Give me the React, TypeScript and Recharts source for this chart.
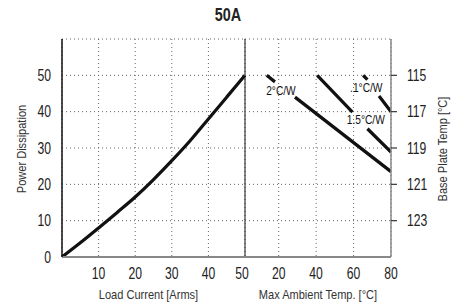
import {
  LineChart,
  Line,
  XAxis,
  YAxis,
  CartesianGrid,
  ReferenceLine,
  ReferenceDot,
  Label,
} from 'recharts'

// no condensed face installed, so regular Liberation Sans gets squeezed horizontally
const FONT = '"Liberation Sans", Arial, sans-serif'

// left panel: power dissipation vs load current
const loadCurrent = [0, 5, 10, 15, 20, 25, 30, 35, 40, 45, 50]
const powerDissipation = [0, 3.9, 8.0, 12.2, 16.5, 21.3, 26.5, 32.0, 38.0, 44.0, 50]
const currentTicks = [10, 20, 30, 40, 50]
const powerTicks = [0, 10, 20, 30, 40, 50, 60]

// right panel: derating lines (ambient temp vs power), null = gap for the label
const twoCwTemp = [13.6, 18, 23, 28.7, 80]
const twoCwPower = [50, 48.2, null, 44, 23.5]
const oneHalfCwTemp = [40.6, 59.4, 63, 67.4, 80]
const oneHalfCwPower = [50, 39.9, null, 35.3, 28.9]
const pointOneCwTemp = [65.1, 67.4, 70, 73.6, 80]
const pointOneCwPower = [50, 48.8, null, 44.3, 40]
const ambientTicks = [20, 40, 60, 80]
const basePlatePower = [10, 20, 30, 40, 50, 60]
const basePlateLabels = ['123', '121', '119', '117', '115', '']

const curveLabels = [
  { text: '2°C/W', temp: 21.2, power: 45.9 },
  { text: '.1°C/W', temp: 66.8, power: 46.6 },
  { text: '1.5°C/W', temp: 66.5, power: 37.8 },
]

const zip = (xs: number[], ys: (number | null)[]) => xs.map((x, i) => ({ x, y: ys[i] }))

const curveData = zip(loadCurrent, powerDissipation)
const series = [zip(twoCwTemp, twoCwPower), zip(oneHalfCwTemp, oneHalfCwPower), zip(pointOneCwTemp, pointOneCwPower)]

const gridStroke = '#666'
const TICK_SIZE = 16
const TICK_SX = 0.76

function NarrowText({ x, y, anchor = 'middle', size, weight = 'normal', fill = '#222', rotate = 0, sx = 0.85, baseline, children }: any) {
  return (
    <text
      transform={`translate(${x},${y}) rotate(${rotate}) scale(${sx},1)`}
      textAnchor={anchor}
      dominantBaseline={baseline}
      fontSize={size}
      fontWeight={weight}
      fill={fill}
      fontFamily={FONT}
    >
      {children}
    </text>
  )
}

function BottomTick({ x, y, payload }: any) {
  return (
    <NarrowText x={x} y={y + TICK_SIZE * 0.716} size={TICK_SIZE} sx={TICK_SX}>
      {payload.value}
    </NarrowText>
  )
}

function LeftTick({ x, y, payload }: any) {
  if (payload.value === 60) return <g />
  return (
    <NarrowText x={x} y={y + TICK_SIZE * 0.358} anchor="end" size={TICK_SIZE} sx={TICK_SX}>
      {payload.value}
    </NarrowText>
  )
}

function RightTick({ x, y, payload }: any) {
  const label = basePlateLabels[basePlatePower.indexOf(payload.value)]
  if (!label) return <g />
  return (
    <g>
      <line x1={x - 15} x2={x - 9} y1={y} y2={y} stroke="#333" strokeWidth={1.2} />
      <NarrowText x={x + 1} y={y + TICK_SIZE * 0.358} anchor="start" size={TICK_SIZE} sx={TICK_SX}>
        {label}
      </NarrowText>
    </g>
  )
}

function BottomTitle({ viewBox, text, dx = 0 }: any) {
  return (
    <NarrowText x={viewBox.x + viewBox.width / 2 + dx} y={299} size={13} fill="#333">
      {text}
    </NarrowText>
  )
}

function VerticalTitle({ viewBox, text, dx }: any) {
  return (
    <NarrowText x={viewBox.x + dx} y={149} rotate={-90} size={13} fill="#333" baseline="central">
      {text}
    </NarrowText>
  )
}

export default function App() {
  return (
    <div style={{ position: 'absolute', left: 0, top: 0, width: 457, height: 305, background: '#fff', fontFamily: FONT }}>
      <div style={{ position: 'absolute', left: 0, top: 0 }}>
        <LineChart width={250} height={305} data={curveData} margin={{ top: 39, right: 5, bottom: 0, left: 0 }}>
          <CartesianGrid stroke={gridStroke} strokeDasharray="1 3" />
          <XAxis
            dataKey="x"
            type="number"
            domain={[0, 50]}
            ticks={currentTicks}
            height={48}
            tick={<BottomTick />}
            tickLine={false}
            tickSize={6}
            tickMargin={5}
            axisLine={{ stroke: '#888', strokeWidth: 2 }}
          >
            <Label content={(p: any) => <BottomTitle {...p} text="Load Current  [Arms]" dx={-5} />} />
          </XAxis>
          <YAxis
            type="number"
            domain={[0, 60]}
            ticks={powerTicks}
            width={62}
            tick={<LeftTick />}
            tickLine={false}
            tickSize={6}
            tickMargin={5}
            axisLine={{ stroke: '#111', strokeWidth: 1.5 }}
          >
            <Label content={(p: any) => <VerticalTitle {...p} text="Power Dissipation" dx={22} />} />
          </YAxis>
          <ReferenceLine x={50} stroke="#111" strokeWidth={1} />
          <Line
            type="monotone"
            dataKey="y"
            stroke="#111"
            strokeWidth={3.2}
            dot={false}
            isAnimationActive={false}
          />
        </LineChart>
      </div>
      <div style={{ position: 'absolute', left: 200, top: 0 }}>
        <LineChart width={257} height={305} margin={{ top: 39, right: 0, bottom: 0, left: 45 }}>
          <CartesianGrid stroke={gridStroke} strokeDasharray="1 3" />
          <XAxis
            dataKey="x"
            type="number"
            domain={[2, 80]}
            allowDataOverflow
            ticks={ambientTicks}
            height={48}
            tick={<BottomTick />}
            tickLine={false}
            tickSize={6}
            tickMargin={5}
            axisLine={{ stroke: '#888', strokeWidth: 2 }}
          >
            <Label content={(p: any) => <BottomTitle {...p} text="Max Ambient Temp. [°C]" />} />
          </XAxis>
          <YAxis
            orientation="right"
            type="number"
            domain={[0, 60]}
            ticks={basePlatePower}
            width={66}
            tick={<RightTick />}
            tickLine={false}
            tickSize={6}
            tickMargin={9}
            axisLine={{ stroke: '#888', strokeWidth: 1.5 }}
          >
            <Label content={(p: any) => <VerticalTitle {...p} text="Base Plate Temp [°C]" dx={52} />} />
          </YAxis>
          {series.map((d, i) => (
            <Line
              key={i}
              data={d}
              type="linear"
              dataKey="y"
              stroke="#111"
              strokeWidth={3.2}
              dot={false}
              connectNulls={false}
              isAnimationActive={false}
            />
          ))}
          {curveLabels.map((l) => (
            <ReferenceDot
              key={l.text}
              x={l.temp}
              y={l.power}
              r={0}
              stroke="none"
              fill="none"
              label={(p: any) => (
                <NarrowText x={p.viewBox.x + p.viewBox.width / 2} y={p.viewBox.y + p.viewBox.height / 2 + 4.3} size={12} fill="#111">
                  {l.text}
                </NarrowText>
              )}
            />
          ))}
        </LineChart>
      </div>
      <svg width={457} height={305} style={{ position: 'absolute', left: 0, top: 0, pointerEvents: 'none' }}>
        <NarrowText x={228} y={21} size={18} weight="bold" sx={0.8}>
          50A
        </NarrowText>
      </svg>
    </div>
  )
}
